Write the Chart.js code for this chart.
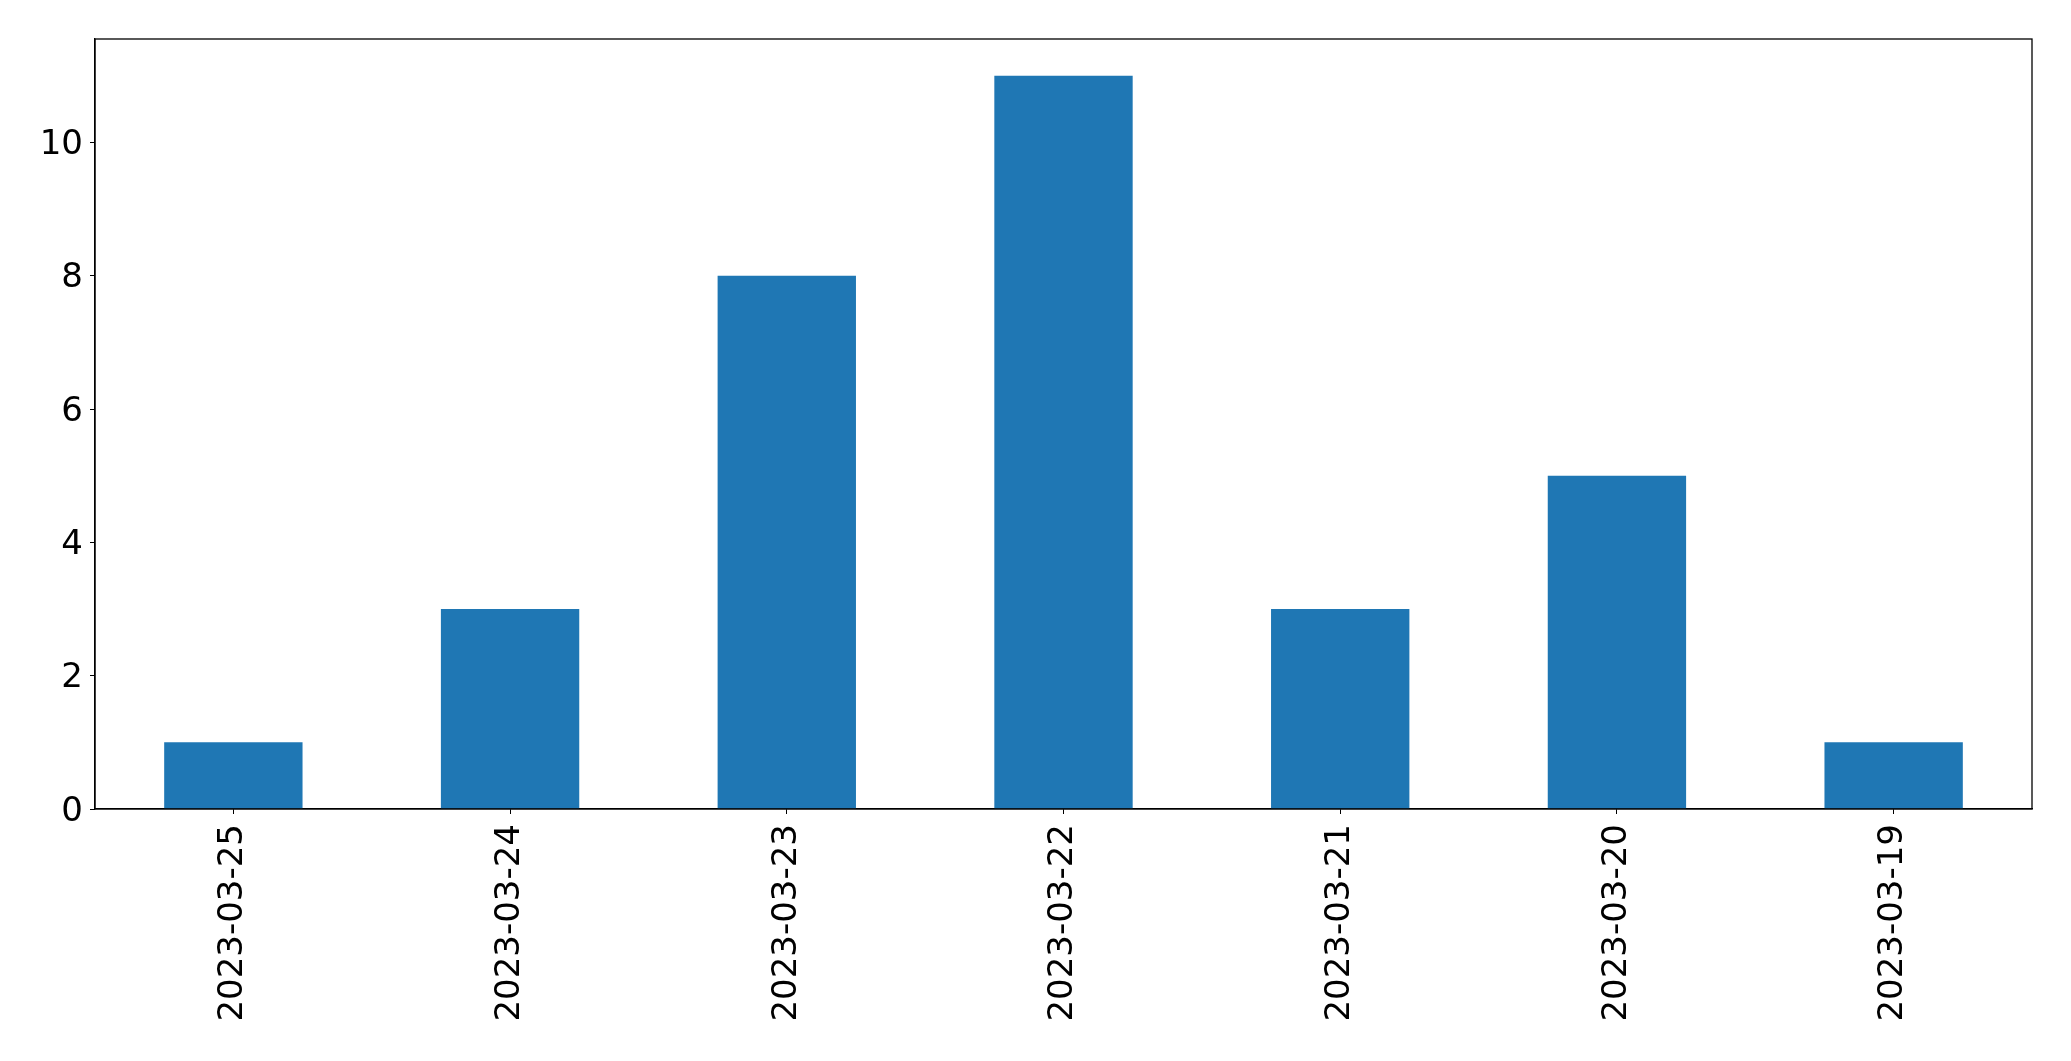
<!DOCTYPE html>
<html>
<head>
<meta charset="utf-8">
<script src="https://cdn.jsdelivr.net/npm/chart.js@4/dist/chart.umd.min.js"></script>
<style>
html,body{margin:0;padding:0;background:#fff;overflow:hidden;}
#wrap{width:2071px;height:1061px;}
</style>
</head>
<body>
<div id="wrap"><canvas id="c" width="2071" height="1061"></canvas></div>
<script>
const categories = ["2023-03-25","2023-03-24","2023-03-23","2023-03-22","2023-03-21","2023-03-20","2023-03-19"];
const counts = [1, 3, 8, 11, 3, 5, 1];
const yMax = 11.55;
const yStep = 2;

const frame = {
  id: 'frame',
  afterDraw(chart) {
    const a = chart.chartArea, ctx = chart.ctx;
    ctx.save();
    ctx.strokeStyle = '#000';
    ctx.lineWidth = 1.3;
    ctx.strokeRect(a.left, a.top, a.right - a.left, a.bottom - a.top);
    ctx.restore();
  }
};

new Chart(document.getElementById('c'), {
  type: 'bar',
  data: {
    labels: categories,
    datasets: [{
      data: counts,
      backgroundColor: '#1f77b4',
      borderWidth: 0,
      categoryPercentage: 0.5,
      barPercentage: 1.0
    }]
  },
  options: {
    responsive: false,
    devicePixelRatio: 1,
    animation: false,
    layout: { padding: { top: 39, right: 39, left: 0, bottom: 0 } },
    plugins: { legend: { display: false }, tooltip: { enabled: false } },
    scales: {
      x: {
        offset: true,
        grid: { display: true, drawOnChartArea: false, drawTicks: true, tickLength: 5, color: '#000', offset: false },
        border: { display: true, color: '#000', width: 1.3 },
        ticks: {
          color: '#000',
          font: { family: 'DejaVu Sans', size: 34 },
          minRotation: 90, maxRotation: 90,
          padding: 10,
          autoSkip: false
        },
        afterFit(scale) { scale.height = 252; }
      },
      y: {
        min: 0,
        max: yMax,
        grid: { display: true, drawOnChartArea: false, drawTicks: true, tickLength: 5, color: '#000' },
        border: { display: true, color: '#000', width: 1.3 },
        ticks: {
          stepSize: yStep,
          includeBounds: false,
          color: '#000',
          font: { family: 'DejaVu Sans', size: 34 },
          padding: 7,
          labelOffset: 3
        },
        afterFit(scale) { scale.width = 95; }
      }
    }
  },
  plugins: [frame]
});
</script>
</body>
</html>
